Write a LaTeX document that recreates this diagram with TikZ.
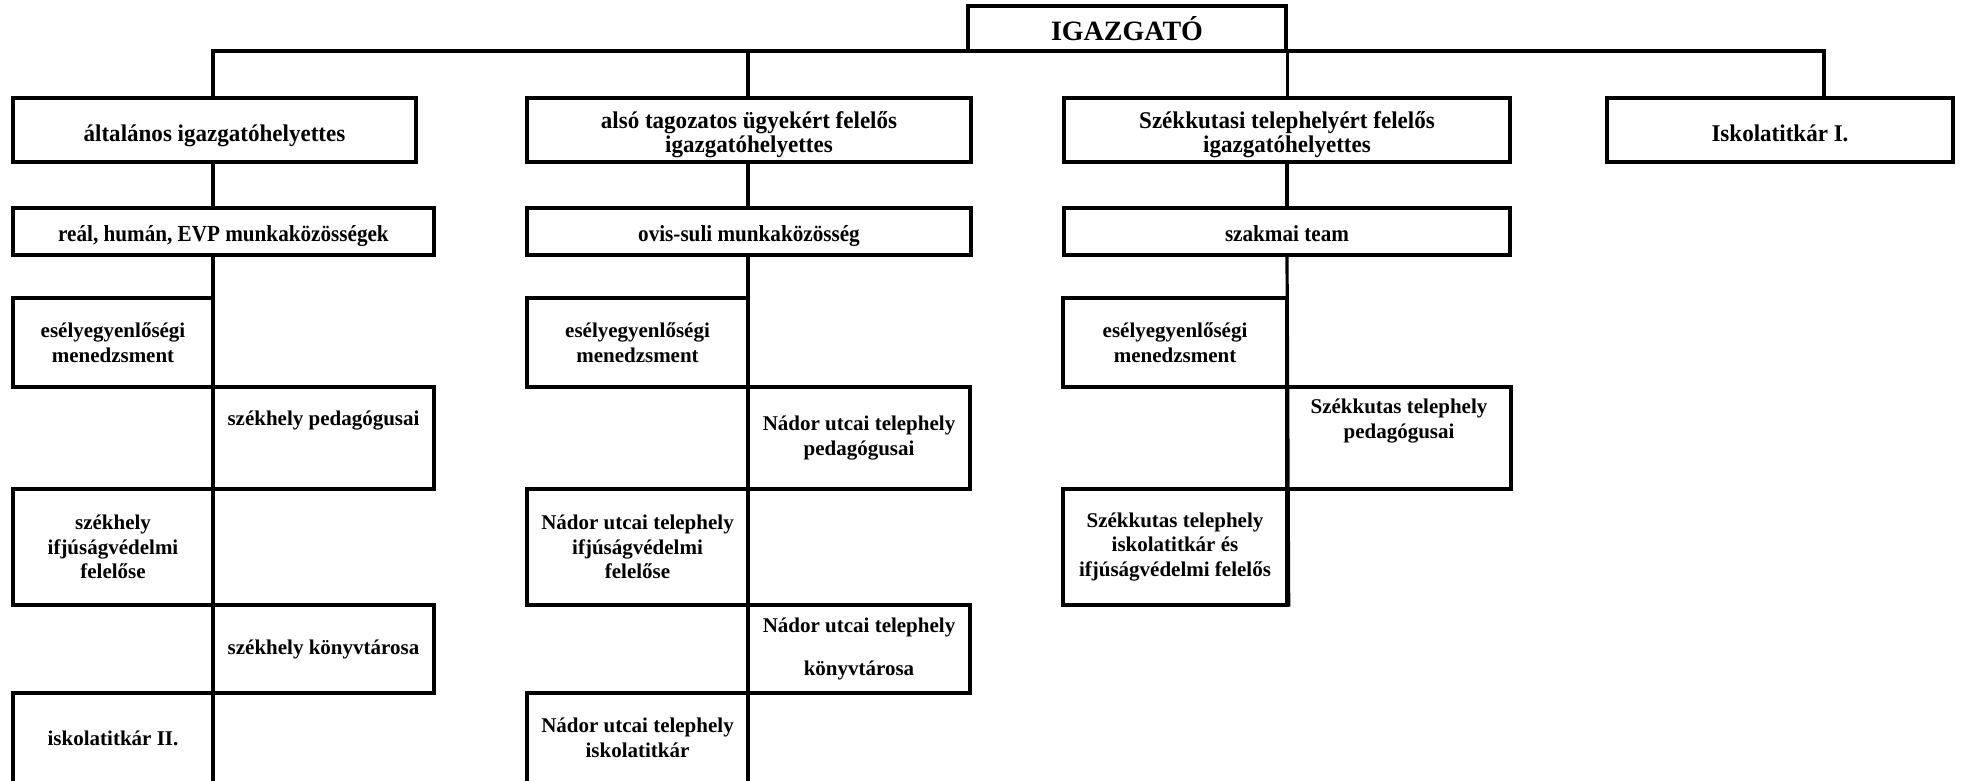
\documentclass[tikz,border=0pt]{standalone}
\usepackage{fontspec}
\setmainfont{Liberation Serif}
\newfontfamily\condA{Liberation Serif}[FakeStretch=0.96]
\newfontfamily\condB{Liberation Serif}[FakeStretch=0.92]
\begin{document}
\begin{tikzpicture}[x=1pt,y=-1pt,
  box/.style={draw, line width=3.4pt, inner sep=0pt, align=center,
    font=\fontsize{21}{24.5}\selectfont\bfseries},
  topbox/.style={box, minimum height=64pt, font=\condA\fontsize{24}{24}\selectfont\bfseries},
  midbox/.style={box, minimum height=47pt, text height=20pt, text depth=0pt,
    font=\condB\fontsize{23}{23}\selectfont\bfseries},
  conn/.style={line width=3.2pt}]
\useasboundingbox (0,0) rectangle (1962,780);
\fill[white] (0,0) rectangle (1962,780);
\clip (0,0) rectangle (1962,780);

% top
\node[box, font=\fontsize{28}{30}\selectfont\bfseries, minimum width=318pt, minimum height=45pt,
  text height=23pt, text depth=0pt] (igaz) at (1127,28.5) {IGAZGATÓ};

% row 1
\node[topbox, minimum width=403pt, text height=23pt, text depth=0pt] (gen) at (214.5,130) {általános igazgatóhelyettes};
\node[topbox, minimum width=444pt, text height=44pt, text depth=0pt] (also) at (749,130) {alsó tagozatos ügyekért felelős\\igazgatóhelyettes};
\node[topbox, minimum width=446pt, text height=44pt, text depth=0pt] (szkh) at (1287,130) {Székkutasi telephelyért felelős\\igazgatóhelyettes};
\node[topbox, minimum width=346pt, text height=23pt, text depth=0pt] (isk1) at (1780,130) {Iskolatitkár I.};

% row 2
\node[midbox, minimum width=421pt] (real) at (223.5,231.5) {reál, humán, EVP munkaközösségek};
\node[midbox, minimum width=444pt] (ovis) at (749,231.5) {ovis-suli munkaközösség};
\node[midbox, minimum width=446pt] (szak) at (1287,231.5) {szakmai team};

% column 1
\node[box, minimum width=200pt, minimum height=89pt] (a1) at (113,342.5) {esélyegyenlőségi\\menedzsment};
\node[box, minimum width=221pt, minimum height=102pt, text height=0pt, text depth=25pt] (a2) at (323.5,438) {székhely pedagógusai};
\node[box, minimum width=200pt, minimum height=116pt] (a3) at (113,547) {székhely\\ifjúságvédelmi\\felelőse};
\node[box, minimum width=221pt, minimum height=88pt] (a4) at (323.5,649) {székhely könyvtárosa};
\node[box, minimum width=200pt, minimum height=90pt] (a5) at (113,738) {iskolatitkár II.};

% column 2
\node[box, minimum width=221pt, minimum height=89pt] (b1) at (637.5,342.5) {esélyegyenlőségi\\menedzsment};
\node[box, minimum width=222pt, minimum height=102pt] (b2) at (859,438) {Nádor utcai telephely\\pedagógusai};
\node[box, minimum width=221pt, minimum height=116pt] (b3) at (637.5,547) {Nádor utcai telephely\\ifjúságvédelmi\\felelőse};
\node[box, minimum width=222pt, minimum height=88pt] (b4) at (859,649) {Nádor utcai telephely\\[19pt]könyvtárosa};
\node[box, minimum width=221pt, minimum height=90pt] (b5) at (637.5,738) {Nádor utcai telephely\\iskolatitkár};

% column 3
\node[box, minimum width=224pt, minimum height=89pt] (c1) at (1175,342.5) {esélyegyenlőségi\\menedzsment};
\node[box, minimum width=224pt, minimum height=102pt, text height=0pt, text depth=0pt] (c2) at (1399,438) {Székkutas telephely\\pedagógusai};
\node[box, minimum width=224pt, minimum height=116pt] (c3) at (1175,547) {Székkutas telephely\\iskolatitkár és\\ifjúságvédelmi felelős};

% connectors
\coordinate (j1) at (213,51);
\coordinate (j2) at (748,51);
\coordinate (j4) at (1824,51);
\coordinate (bot1) at (213,790);
\coordinate (bot2) at (748,790);
\draw[conn] (gen.north -| j1) -- (j1) -- (j4) -- (isk1.north -| j4);
\draw[conn] (j2) -- (also.north -| j2);
\draw[conn] (igaz.south east) -- (szkh.north -| igaz.south east);
\draw[conn] (gen.south -| j1) -- (real.north -| j1);
\draw[conn] (real.south -| j1) -- (bot1);
\draw[conn] (also.south -| j2) -- (ovis.north -| j2);
\draw[conn] (ovis.south -| j2) -- (bot2);
\draw[conn] (szkh.south) -- (szak.north);
\draw[conn] (szak.south) -- (c3.south east);
\end{tikzpicture}
\end{document}
